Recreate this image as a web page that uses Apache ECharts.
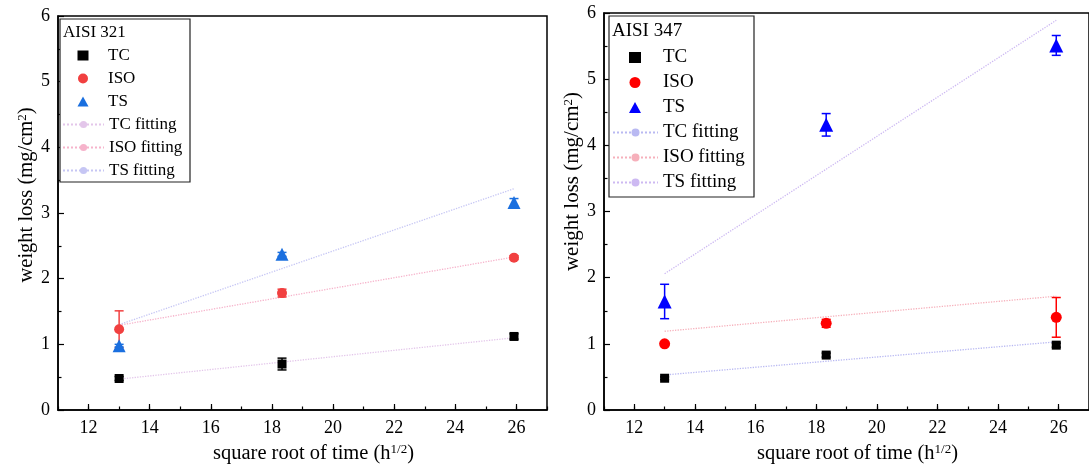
<!DOCTYPE html>
<html><head><meta charset="utf-8">
<script src="https://cdn.jsdelivr.net/npm/echarts@6/dist/echarts.min.js"></script>
<style>html,body{margin:0;padding:0;background:#fff}#c{width:1089px;height:470px}</style>
</head><body><div id="c"></div>
<script>
// ---- data ----
const timeX = [13, 18.33, 25.92];
const fitX = [13, 25.92];

const tc321 = [0.48, 0.70, 1.12];
const tc321Err = [0.03, 0.09, 0.04];
const iso321 = [1.23, 1.78, 2.32];
const iso321Err = [0.28, 0.06, 0.03];
const ts321 = [0.98, 2.37, 3.16];
const ts321Err = [0.02, 0.03, 0.06];
const tcFit321 = [0.47, 1.10];
const isoFit321 = [1.29, 2.33];
const tsFit321 = [1.30, 3.37];

const tc347 = [0.48, 0.83, 0.98];
const tc347Err = [0.02, 0.03, 0.03];
const iso347 = [1.00, 1.31, 1.40];
const iso347Err = [0.02, 0.06, 0.30];
const ts347 = [1.64, 4.31, 5.51];
const ts347Err = [0.26, 0.17, 0.15];
const tcFit347 = [0.53, 1.03];
const isoFit347 = [1.19, 1.72];
const tsFit347 = [2.06, 5.89];

const panelTitles = ['AISI 321', 'AISI 347'];
const pointNames = ['TC', 'ISO', 'TS'];
const fitNames = ['TC fitting', 'ISO fitting', 'TS fitting'];

const FONT = 'Liberation Serif';

function pts(xs, ys) { return xs.map((x, i) => [x, ys[i]]); }
function errPts(xs, ys, es) { return xs.map((x, i) => [x, ys[i], es[i]]); }

function errRender(params, api) {
  const x = api.value(0), y = api.value(1), e = api.value(2);
  const t = api.coord([x, y + e]), b = api.coord([x, y - e]);
  const cap = 4.5;
  const st = { stroke: api.visual('color'), lineWidth: 1.5 };
  return { type: 'group', children: [
    { type: 'line', shape: { x1: t[0], y1: t[1], x2: b[0], y2: b[1] }, style: st },
    { type: 'line', shape: { x1: t[0] - cap, y1: t[1], x2: t[0] + cap, y2: t[1] }, style: st },
    { type: 'line', shape: { x1: b[0] - cap, y1: b[1], x2: b[0] + cap, y2: b[1] }, style: st }
  ]};
}

const panels = [
  { tag: '321', colors: ['#000000', '#F14040', '#1A6FDF'], fitColors: ['#E3C6EA', '#F6B3CB', '#C6C6F4'],
    sets: [[tc321, tc321Err], [iso321, iso321Err], [ts321, ts321Err]], fits: [tcFit321, isoFit321, tsFit321],
    sizes: [9, 10, 13] },
  { tag: '347', colors: ['#000000', '#FF0000', '#0000FF'], fitColors: ['#B9B9F2', '#F6B0BB', '#CDB9F2'],
    sets: [[tc347, tc347Err], [iso347, iso347Err], [ts347, ts347Err]], fits: [tcFit347, isoFit347, tsFit347],
    sizes: [9, 11, 14] }
];
const symbols = ['rect', 'circle', 'triangle'];

const series = [];
panels.forEach((p, pi) => {
  p.fits.forEach((f, k) => {
    series.push({ name: fitNames[k] + '|' + p.tag, type: 'line', xAxisIndex: pi * 2, yAxisIndex: pi,
      data: pts(fitX, f), symbol: 'none', silent: true, z: 1,
      lineStyle: { color: p.fitColors[k], width: 1.3, type: 'dotted' }, itemStyle: { color: p.fitColors[k] } });
  });
  p.sets.forEach((s, k) => {
    series.push({ name: 'err' + k + '|' + p.tag, type: 'custom', xAxisIndex: pi * 2, yAxisIndex: pi,
      renderItem: errRender, data: errPts(timeX, s[0], s[1]), itemStyle: { color: p.colors[k] }, z: 2, silent: true });
    series.push({ name: pointNames[k] + '|' + p.tag, type: 'scatter', xAxisIndex: pi * 2, yAxisIndex: pi,
      data: pts(timeX, s[0]), symbol: symbols[k], symbolSize: p.sizes[k], itemStyle: { color: p.colors[k], opacity: 1 }, z: 3 });
  });
});

const grids = [
  { left: 58, top: 16, width: 489, height: 394 },
  { left: 604, top: 13, width: 492, height: 397 }
];
const nameCfg = [
  { xPad: [0, 0, 0, 22], yPad: [0, 0, 0, 36], yGap: 21, yFont: 20.5, xFont: 20.5 },
  { xPad: [0, 0, 0, 22], yPad: [0, 0, 0, 60], yGap: 15, yFont: 21, xFont: 20.5 }
];

const xAxes = [], yAxes = [];
grids.forEach((g, gi) => {
  const nc = nameCfg[gi];
  xAxes.push({ type: 'value', gridIndex: gi, min: 11, max: 27, splitNumber: 8,
    name: 'square root of time (h{sup|1/2})', nameLocation: 'middle', nameGap: 33,
    nameTextStyle: { fontFamily: FONT, fontSize: nc.xFont, color: '#000', padding: nc.xPad,
      rich: { sup: { fontSize: 13, verticalAlign: 'top', fontFamily: FONT, color: '#000' } } },
    axisLine: { show: true, onZero: false, lineStyle: { color: '#000', width: 1.5 } },
    axisTick: { show: true, inside: true, length: 6, lineStyle: { color: '#000', width: 1.2 } },
    axisLabel: { fontFamily: FONT, fontSize: 18, color: '#000', margin: 9, showMinLabel: false, showMaxLabel: false },
    splitLine: { show: false } });
  xAxes.push({ type: 'value', gridIndex: gi, min: 11, max: 27, interval: 1, position: 'bottom',
    axisLine: { show: false }, axisLabel: { show: false }, splitLine: { show: false },
    axisTick: { show: true, inside: true, length: 3.5, lineStyle: { color: '#000', width: 1.2 } } });
  yAxes.push({ type: 'value', gridIndex: gi, min: 0, max: 6, interval: 1,
    name: 'weight loss (mg/cm{sup|2})', nameLocation: 'middle', nameGap: nc.yGap,
    nameTextStyle: { fontFamily: FONT, fontSize: nc.yFont, color: '#000', padding: nc.yPad,
      rich: { sup: { fontSize: 13, verticalAlign: 'top', fontFamily: FONT, color: '#000' } } },
    axisLine: { show: true, onZero: false, lineStyle: { color: '#000', width: 1.5 } },
    axisTick: { show: true, inside: true, length: 6, lineStyle: { color: '#000', width: 1.2 } },
    minorTick: { show: true, splitNumber: 2, length: 3.5, lineStyle: { color: '#000', width: 1.2 } },
    axisLabel: { fontFamily: FONT, fontSize: 18, color: '#000', margin: 8 },
    splitLine: { show: false } });
});

function legendFor(names, tag, left, top, fontSize, gap, iw, ih, textPadLeft) {
  return { orient: 'vertical', left: left, top: top, itemWidth: iw, itemHeight: ih, itemGap: gap,
    selectedMode: false, padding: 0, z: 20,
    data: names.map(n => n + '|' + tag),
    formatter: n => n.split('|')[0],
    textStyle: { fontFamily: FONT, fontSize: fontSize, color: '#000', lineHeight: fontSize, padding: [0, 0, 0, textPadLeft] } };
}

const option = {
  animation: false,
  backgroundColor: '#fff',
  grid: grids.map(g => Object.assign({ show: true, borderColor: '#000', borderWidth: 1.5, backgroundColor: 'transparent' }, g)),
  xAxis: xAxes,
  yAxis: yAxes,
  legend: [
    legendFor(pointNames, '321', 77.5, 47, 17, 6, 11, 10, 14.5),
    legendFor(fitNames, '321', 62, 116, 17, 6, 41, 9, 0),
    legendFor(pointNames, '347', 629, 48, 19, 6, 12, 11, 17),
    legendFor(fitNames, '347', 612, 123, 19, 6, 45, 10, 0)
  ],
  graphic: [
    { type: 'rect', shape: { x: 60, y: 19, width: 130, height: 163 }, style: { fill: '#fff', stroke: '#222', lineWidth: 1.2 }, z: 5 },
    { type: 'text', x: 63, y: 24, style: { text: panelTitles[0], fontFamily: FONT, fontSize: 17, fill: '#000' }, z: 6 },
    { type: 'rect', shape: { x: 609, y: 16, width: 145, height: 181 }, style: { fill: '#fff', stroke: '#222', lineWidth: 1.2 }, z: 5 },
    { type: 'text', x: 612, y: 22, style: { text: panelTitles[1], fontFamily: FONT, fontSize: 19, fill: '#000' }, z: 6 }
  ],
  series: series
};

const chart = echarts.init(document.getElementById('c'), null, { renderer: 'canvas' });
chart.setOption(option);
</script></body></html>
